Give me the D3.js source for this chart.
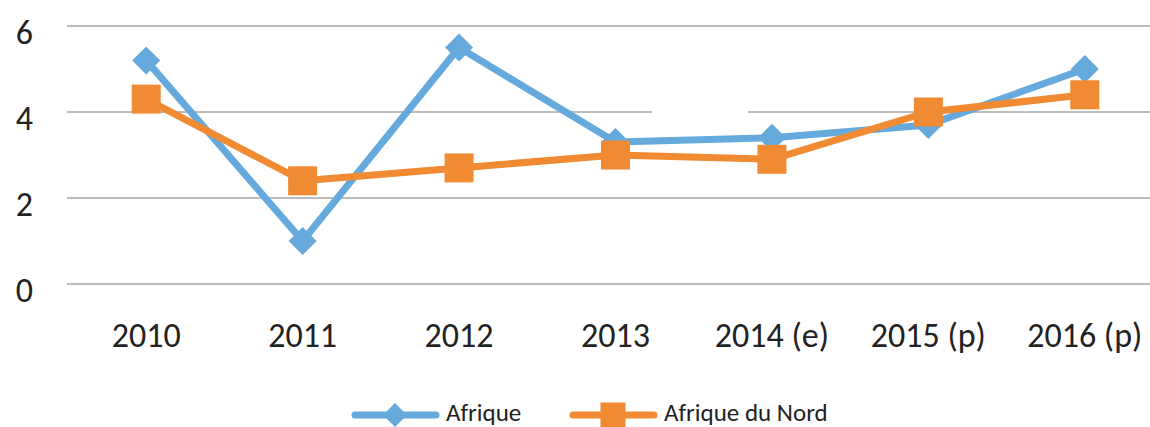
<!DOCTYPE html>
<html lang="fr">
<head>
<meta charset="UTF-8">
<title>Afrique / Afrique du Nord</title>
<style>
  html, body { margin: 0; padding: 0; background: #fff; }
  svg { display: block; }
  text { font-family: Carlito, Lato, "Liberation Sans", sans-serif; fill: #222; }
</style>
</head>
<body>
<svg id="svg" width="1150" height="427"></svg>
<script src="https://d3js.org/d3.v7.min.js"></script>
<script>
const categories = ['2010', '2011', '2012', '2013', '2014 (e)', '2015 (p)', '2016 (p)']
const afrique = [5.2, 1.0, 5.5, 3.3, 3.4, 3.7, 5.0]
const afriqueNord = [4.3, 2.4, 2.7, 3.0, 2.9, 4.0, 4.4]
const yTicks = [0, 2, 4, 6]

const seriesList = [
  { name: 'Afrique', values: afrique, color: '#65a9dd', marker: 'diamond' },
  { name: 'Afrique du Nord', values: afriqueNord, color: '#f08a33', marker: 'square' }
]

const svg = d3.select('#svg')

// plot area: bands run a little past the right edge, as in the picture
const xscale = d3.scaleBand()
  .domain(categories)
  .range([68, 1163])

const yscale = d3.scaleLinear()
  .domain([0, 6])
  .range([284, 26])

// gridlines
const grid = svg.append('g')
grid.selectAll('line')
  .data(yTicks)
  .enter()
  .append('line')
  .attr('x1', 67)
  .attr('x2', 1150)
  .attr('y1', d => yscale(d))
  .attr('y2', d => yscale(d))
  .attr('stroke', '#a6a6a6')
  .attr('stroke-width', 1.5)

// the gap in the "4" gridline
svg.append('rect')
  .attr('x', 652).attr('y', yscale(4) - 3)
  .attr('width', 96).attr('height', 6)
  .attr('fill', '#fff')

// y axis labels (sit a bit below their gridline)
const leftAxis = d3.axisLeft(yscale)
  .tickValues(yTicks)
  .tickFormat(d3.format('d'))
  .tickSize(0)
  .tickPadding(0)
svg.append('g')
  .attr('transform', 'translate(33, 5)')
  .call(leftAxis)
  .call(g => g.select('.domain').remove())
  .selectAll('text')
  .attr('font-size', 34)
  .attr('dy', '0.36em')
  .style('font-family', 'Carlito, Lato, "Liberation Sans", sans-serif')
  .attr('fill', '#222')

// x axis labels
const bottomAxis = d3.axisBottom(xscale).tickSize(0).tickPadding(0)
svg.append('g')
  .attr('transform', 'translate(0, 335)')
  .call(bottomAxis)
  .call(g => g.select('.domain').remove())
  .selectAll('text')
  .attr('font-size', 34)
  .attr('dy', '0.36em')
  .attr('y', 0)
  .style('font-family', 'Carlito, Lato, "Liberation Sans", sans-serif')
  .attr('fill', '#222')

const cx = d => xscale(d) + xscale.bandwidth() / 2

const line = d3.line()
  .x((v, i) => cx(categories[i]))
  .y(v => yscale(v))

function drawMarker(g, type, color, size) {
  if (type === 'diamond') {
    g.append('path')
      .attr('d', d3.symbol(d3.symbolSquare, size * size / 2)())
      .attr('transform', 'rotate(45)')
      .attr('fill', color)
  } else {
    g.append('rect')
      .attr('x', -size / 2).attr('y', -size / 2)
      .attr('width', size).attr('height', size)
      .attr('fill', color)
  }
}

seriesList.forEach(s => {
  const g = svg.append('g')
  g.append('path')
    .datum(s.values)
    .attr('d', line)
    .attr('fill', 'none')
    .attr('stroke', s.color)
    .attr('stroke-width', 7)
    .attr('stroke-linejoin', 'round')

  s.values.forEach((v, i) => {
    const m = g.append('g')
      .attr('transform', `translate(${cx(categories[i])}, ${yscale(v)})`)
    drawMarker(m, s.marker, s.color, s.marker === 'diamond' ? 28 : 29)
  })
})

// legend
const legend = svg.append('g').attr('transform', 'translate(0, 415)')
const legendX = [355, 573]
seriesList.forEach((s, i) => {
  const g = legend.append('g').attr('transform', `translate(${legendX[i]}, 0)`)
  g.append('line')
    .attr('x1', 0).attr('x2', 81)
    .attr('stroke', s.color)
    .attr('stroke-width', 7)
    .attr('stroke-linecap', 'round')
  const m = g.append('g').attr('transform', 'translate(40, 0)')
  drawMarker(m, s.marker, s.color, s.marker === 'diamond' ? 24 : 25)
  g.append('text')
    .attr('x', 91)
    .attr('y', 6)
    .attr('font-size', 25)
    .text(s.name)
})
</script>
</body>
</html>
